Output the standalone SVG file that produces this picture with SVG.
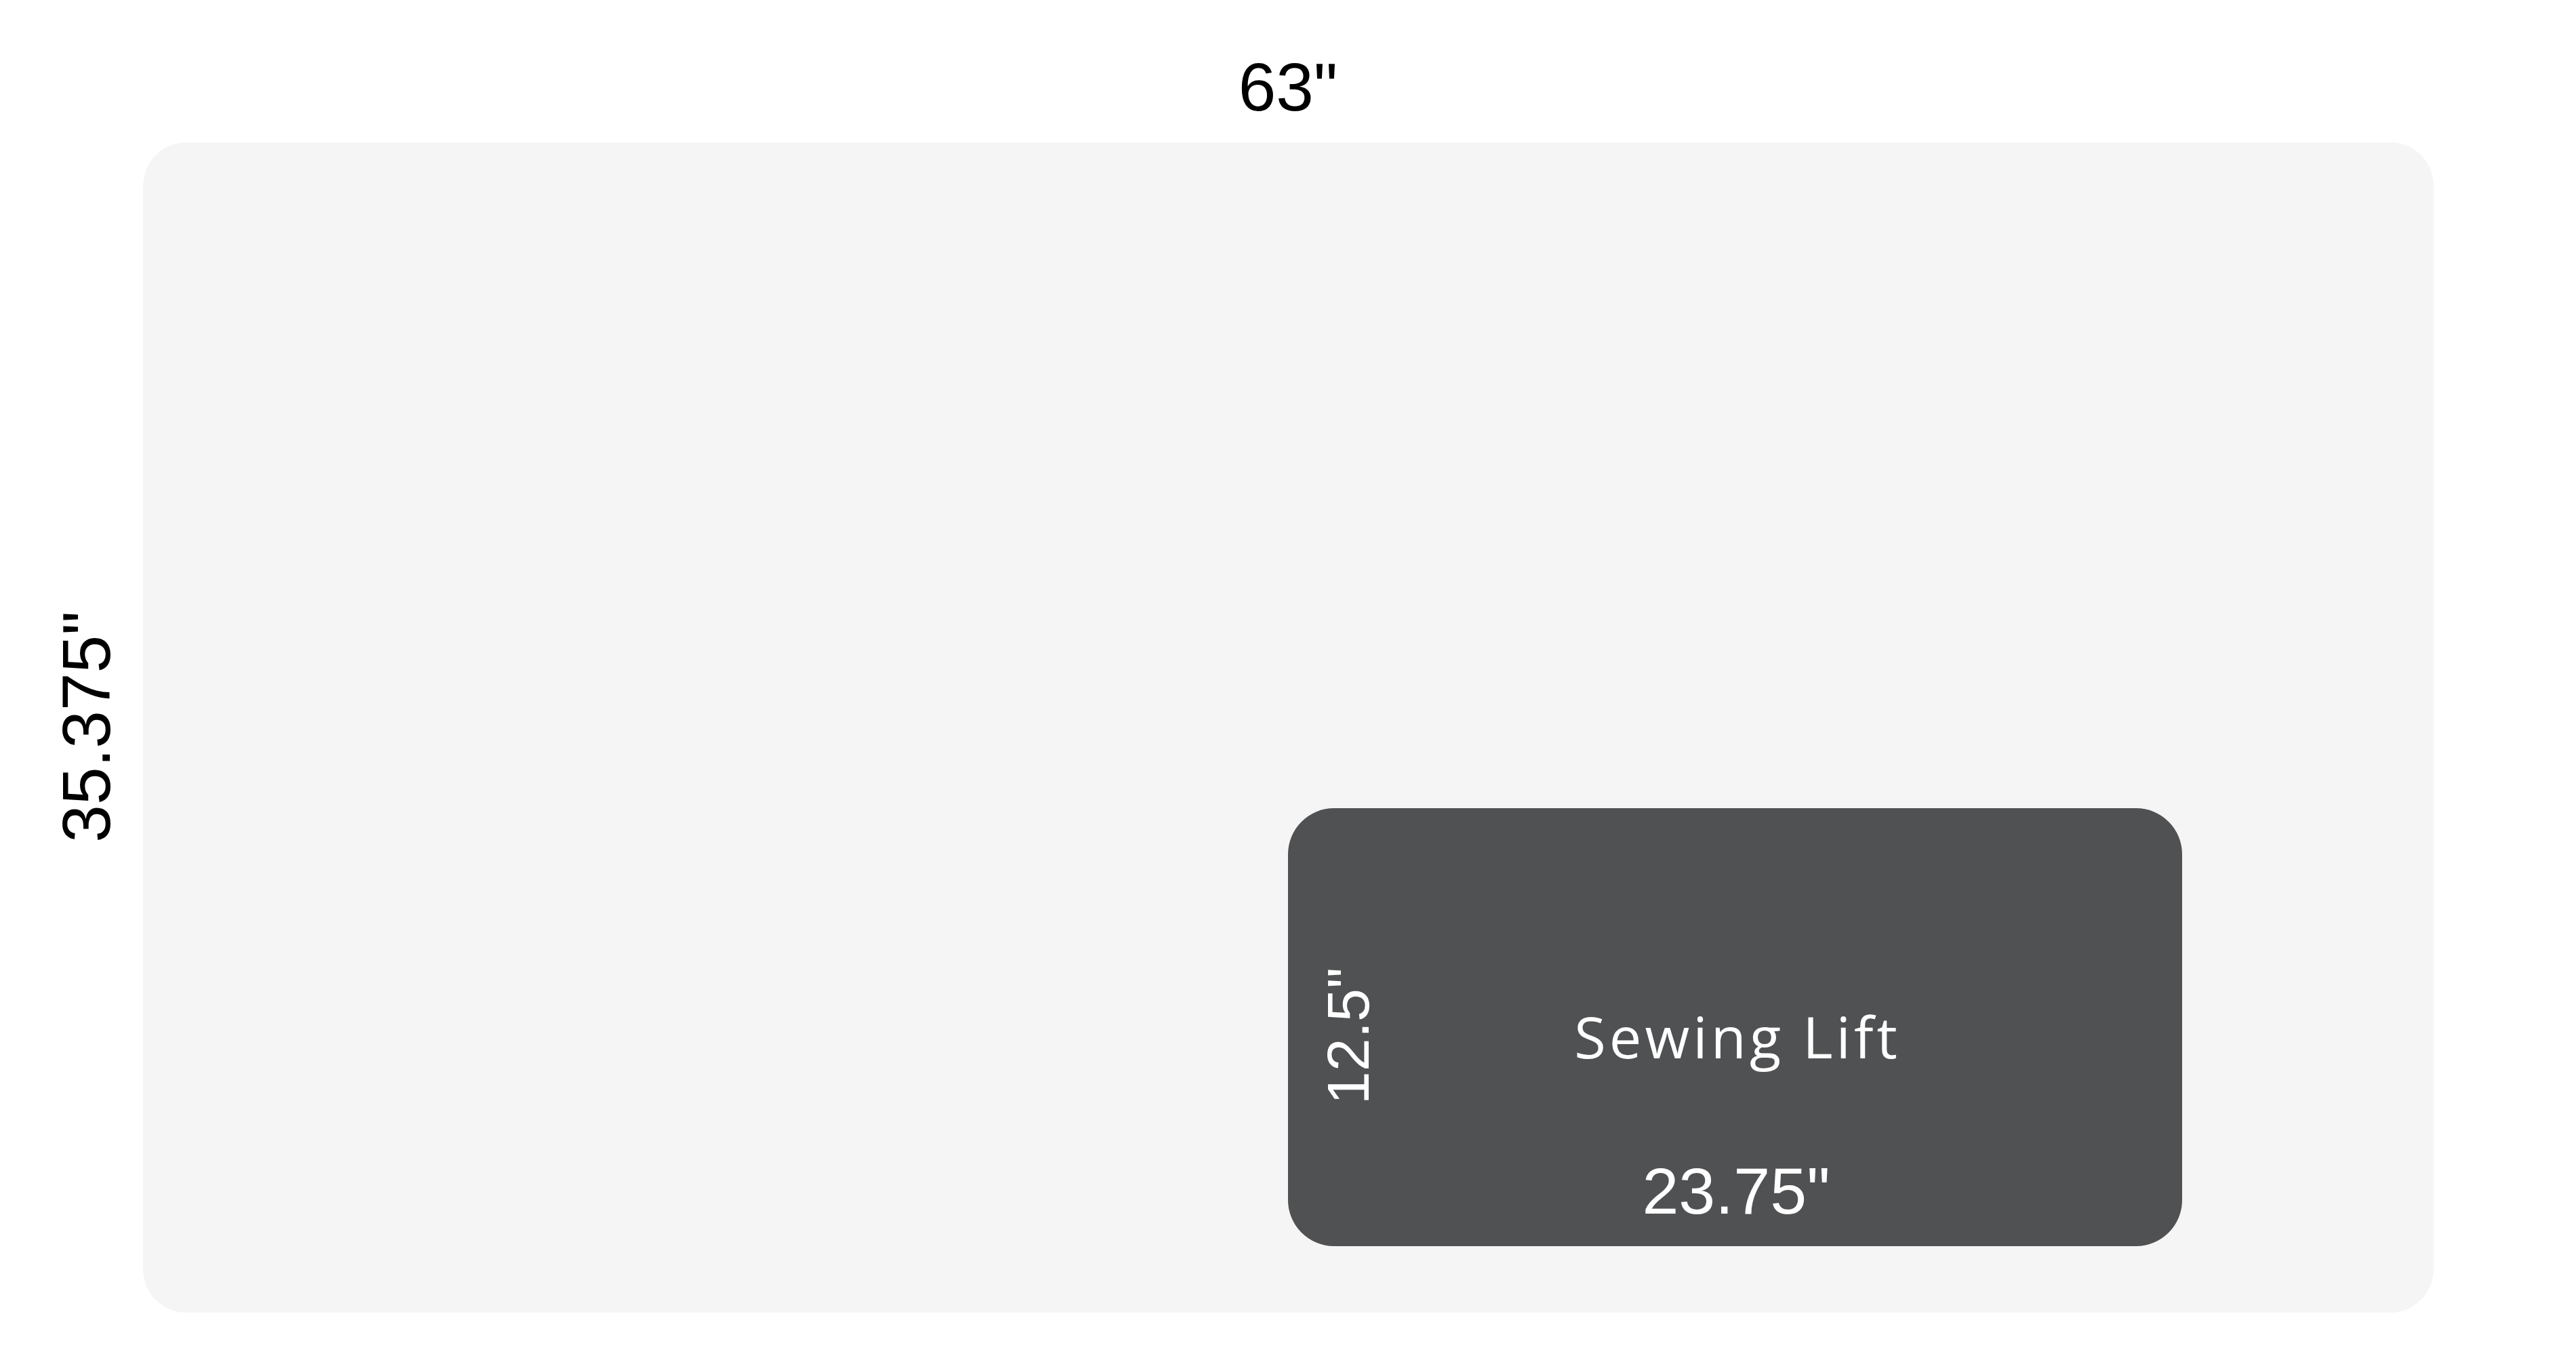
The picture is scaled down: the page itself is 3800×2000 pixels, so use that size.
<svg xmlns="http://www.w3.org/2000/svg" width="3800" height="2000" viewBox="0 0 3800 2000">
<style>
.dim{font-family:"Liberation Sans",Arial,sans-serif;font-size:100px;text-anchor:middle}
.lbl{font-family:"Open Sans","Liberation Sans",sans-serif;font-size:85px;text-anchor:middle;letter-spacing:5px}
</style>
<rect width="3800" height="2000" fill="#ffffff"/>
<g id="table">
<rect x="211" y="210" width="3379" height="1726" rx="64" ry="64" fill="#f5f5f5"/>
<text class="dim" x="1900" y="163" fill="#000000">63"</text>
<text class="dim" transform="translate(162,1072) rotate(-90)" x="0" y="0" fill="#000000">35.375"</text>
</g>
<g id="sewing-lift">
<rect x="1900" y="1192" width="1319" height="646" rx="68" ry="68" fill="#505153"/>
<text class="lbl" x="2563" y="1561" fill="#ffffff">Sewing Lift</text>
<text class="dim" x="2561" y="1790" fill="#ffffff" style="font-size:97px">23.75"</text>
<text class="dim" transform="translate(2019,1528) rotate(-90)" x="0" y="0" fill="#ffffff" style="font-size:88px">12.5"</text>
</g>
<g id="connectors"/>
</svg>
